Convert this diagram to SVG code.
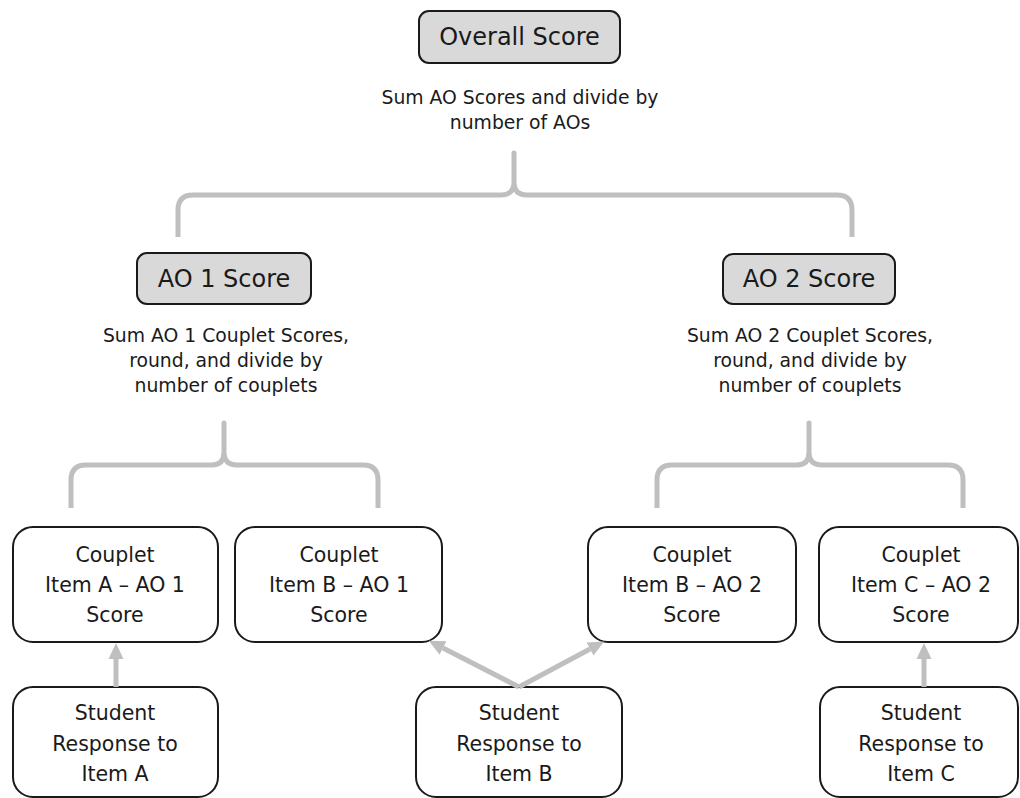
<svg xmlns="http://www.w3.org/2000/svg" width="1020" height="798" viewBox="0 0 1020 798">
<defs>
<style>
.hdr{fill:#d9d9d9;stroke:#1a1a1a;stroke-width:2}
.box{fill:#ffffff;stroke:#1a1a1a;stroke-width:2}
text{font-family:"DejaVu Sans","Liberation Sans",sans-serif;fill:#1a1a1a;text-anchor:middle}
.t24{font-size:24px}
.t20{font-size:20.5px}
.t19{font-size:18.8px}
.brace{fill:none;stroke:#bfbfbf;stroke-width:5;stroke-linejoin:round;stroke-linecap:butt}
.arr{fill:none;stroke:#bfbfbf;stroke-width:5}
</style>
<marker id="ah" markerUnits="userSpaceOnUse" markerWidth="16" markerHeight="16" refX="0" refY="7" orient="auto" viewBox="0 0 15 14">
<path d="M0,0 L15,7 L0,14 z" fill="#bfbfbf"/>
</marker>
</defs>
<rect width="1020" height="798" fill="#ffffff"/>

<g id="overall">
<rect class="hdr" x="419" y="11" width="201" height="52" rx="10"/>
<text class="t24" x="519.5" y="45">Overall Score</text>
<text class="t19" x="520" y="104">Sum AO Scores and divide by</text>
<text class="t19" x="520" y="129">number of AOs</text>
</g>

<g id="ao1">
<rect class="hdr" x="137" y="253" width="174" height="51" rx="10"/>
<text class="t24" x="224" y="287">AO 1 Score</text>
<text class="t19" x="226" y="342">Sum AO 1 Couplet Scores,</text>
<text class="t19" x="226" y="367">round, and divide by</text>
<text class="t19" x="226" y="392">number of couplets</text>
</g>

<g id="ao2">
<rect class="hdr" x="723" y="254" width="172" height="50" rx="10"/>
<text class="t24" x="809" y="287">AO 2 Score</text>
<text class="t19" x="810" y="342">Sum AO 2 Couplet Scores,</text>
<text class="t19" x="810" y="367">round, and divide by</text>
<text class="t19" x="810" y="392">number of couplets</text>
</g>

<g id="couplet-a1">
<rect class="box" x="13" y="527" width="205" height="115" rx="20"/>
<text class="t20" x="115" y="562">Couplet</text>
<text class="t20" x="115" y="592">Item A – AO 1</text>
<text class="t20" x="115" y="622">Score</text>
</g>

<g id="couplet-b1">
<rect class="box" x="235" y="527" width="207" height="115" rx="20"/>
<text class="t20" x="339" y="562">Couplet</text>
<text class="t20" x="339" y="592">Item B – AO 1</text>
<text class="t20" x="339" y="622">Score</text>
</g>

<g id="couplet-b2">
<rect class="box" x="588" y="527" width="208" height="115" rx="20"/>
<text class="t20" x="692" y="562">Couplet</text>
<text class="t20" x="692" y="592">Item B – AO 2</text>
<text class="t20" x="692" y="622">Score</text>
</g>

<g id="couplet-c2">
<rect class="box" x="819" y="527" width="199" height="115" rx="20"/>
<text class="t20" x="921" y="562">Couplet</text>
<text class="t20" x="921" y="592">Item C – AO 2</text>
<text class="t20" x="921" y="622">Score</text>
</g>

<g id="student-a">
<rect class="box" x="13" y="687" width="205" height="110" rx="20"/>
<text class="t20" x="115" y="720">Student</text>
<text class="t20" x="115" y="751">Response to</text>
<text class="t20" x="115" y="781">Item A</text>
</g>

<g id="student-b">
<rect class="box" x="416" y="687" width="206" height="110" rx="20"/>
<text class="t20" x="519" y="720">Student</text>
<text class="t20" x="519" y="751">Response to</text>
<text class="t20" x="519" y="781">Item B</text>
</g>

<g id="student-c">
<rect class="box" x="820" y="687" width="198" height="110" rx="20"/>
<text class="t20" x="921" y="720">Student</text>
<text class="t20" x="921" y="751">Response to</text>
<text class="t20" x="921" y="781">Item C</text>
</g>

<g id="connectors">
<path class="brace" d="M178,237 V210 Q178,195 193,195 H501 Q514,195 514,182 V153 V182 Q514,195 527,195 H837 Q852,195 852,210 V237"/>
<path class="brace" d="M71,508 V480 Q71,465 86,465 H212 Q224,465 224,452 V423 V452 Q224,465 237,465 H363 Q378,465 378,480 V508"/>
<path class="brace" d="M657,508 V480 Q657,465 672,465 H797 Q809,465 809,452 V423 V452 Q809,465 822,465 H948 Q963,465 963,480 V508"/>
<path class="arr" d="M116,687 V659" marker-end="url(#ah)"/>
<path class="arr" d="M924,687 V659" marker-end="url(#ah)"/>
<path class="arr" d="M519,687 L443,648" marker-end="url(#ah)"/>
<path class="arr" d="M519,687 L590,649" marker-end="url(#ah)"/>
</g>
</svg>
